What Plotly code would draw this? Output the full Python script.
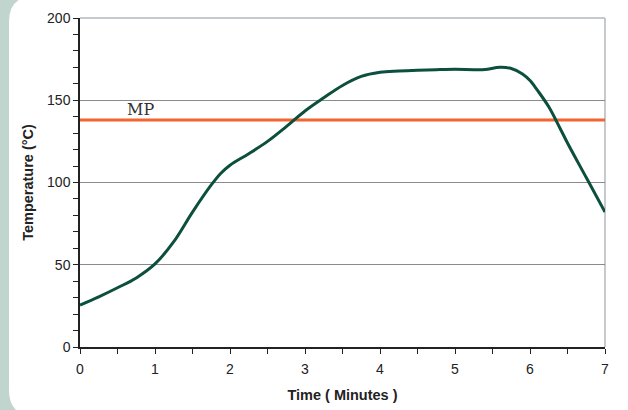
import plotly.graph_objects as go

time_min = [0, 0.25, 0.5, 0.75, 1.0, 1.25, 1.5, 1.75, 1.875, 2.0, 2.25, 2.5, 2.75, 3.0, 3.25, 3.5, 3.75,
            4.0, 4.25, 4.5, 4.75, 5.0, 5.25, 5.4, 5.6, 5.75, 5.9, 6.0, 6.1, 6.25, 6.4, 6.5, 6.75, 7.0]
temp_c = [25.5, 30.5, 36, 42, 50.5, 64, 82, 98.5, 105.5, 110.5, 117.5, 125, 134, 143.5, 151.5, 159, 164.5,
          167, 167.8, 168.3, 168.6, 168.8, 168.6, 168.7, 170, 169.3, 166, 162, 156, 146, 133,
          124, 103, 82]
mp_value = 138
mp_label = "MP"

W, H = 628, 410
L, R, T, B = 80, 23, 18, 63
pw, ph = W - L - R, H - T - B

def px(x):
    return (x - L) / pw

def py(y):
    return (H - B - y) / ph

# rounded white panel
x0, x1, y0, y1, r = 9, 642, -4, 416, 26
path = (f"M {px(x0+r)},{py(y0)} L {px(x1-r)},{py(y0)} Q {px(x1)},{py(y0)} {px(x1)},{py(y0+r)} "
        f"L {px(x1)},{py(y1-r)} Q {px(x1)},{py(y1)} {px(x1-r)},{py(y1)} "
        f"L {px(x0+r)},{py(y1)} Q {px(x0)},{py(y1)} {px(x0)},{py(y1-r)} "
        f"L {px(x0)},{py(y0+r)} Q {px(x0)},{py(y0)} {px(x0+r)},{py(y0)} Z")

fig = go.Figure()
fig.add_trace(go.Scatter(x=time_min, y=temp_c, mode="lines",
                         line=dict(color="#0b4f3c", width=3, shape="spline", smoothing=1.0),
                         hoverinfo="skip", showlegend=False))

fig.add_shape(type="path", path=path, xref="paper", yref="paper",
              fillcolor="white", line=dict(width=0), layer="below")
# border top/right
fig.add_shape(type="line", xref="paper", yref="paper", x0=0, x1=1, y0=1, y1=1,
              line=dict(color="#b4b8bb", width=1.5), layer="below")
fig.add_shape(type="line", xref="paper", yref="paper", x0=1, x1=1, y0=0, y1=1,
              line=dict(color="#b4b8bb", width=1.5), layer="below")
# MP line
fig.add_shape(type="line", xref="paper", yref="y", x0=0, x1=1, y0=mp_value, y1=mp_value,
              line=dict(color="#f26430", width=3), layer="below")
fig.add_annotation(x=0.8, y=mp_value, xref="x", yref="y", text=mp_label, showarrow=False,
                   yanchor="bottom", yshift=-1,
                   font=dict(family="DejaVu Serif, serif", size=16, color="#333"))

fig.update_layout(
    width=W, height=H,
    margin=dict(l=L, r=R, t=T, b=B),
    paper_bgcolor="#c0d5cd",
    plot_bgcolor="rgba(0,0,0,0)",
    font=dict(family="Liberation Sans, Arial, sans-serif", size=14, color="#222"),
)
fig.update_xaxes(range=[0, 7], dtick=1, tick0=0, showgrid=False, zeroline=False, automargin=False,
                 showline=True, linecolor="#222", linewidth=1.5,
                 ticks="outside", ticklen=5, tickcolor="#222", ticklabelstandoff=3,
                 minor=dict(dtick=0.5, ticks="outside", ticklen=5, tickcolor="#222", showgrid=False),
                 title=dict(text="<b>Time ( Minutes )</b>", font=dict(size=14.5), standoff=14),
                 fixedrange=True)
fig.update_yaxes(range=[0, 200], dtick=50, tick0=0, showgrid=True, gridcolor="#8a8a8a", gridwidth=1,
                 zeroline=False, showline=True, linecolor="#222", linewidth=1.5, automargin=False,
                 ticks="outside", ticklen=5, tickcolor="#222",
                 minor=dict(dtick=10, ticks="outside", ticklen=5, tickcolor="#222", showgrid=False),
                 title=dict(text="<b>Temperature (°C)</b>", font=dict(size=14.5), standoff=10),
                 fixedrange=True)

fig.write_html("out.html", config={"displayModeBar": False},
               post_script="document.body.style.margin='0';")
